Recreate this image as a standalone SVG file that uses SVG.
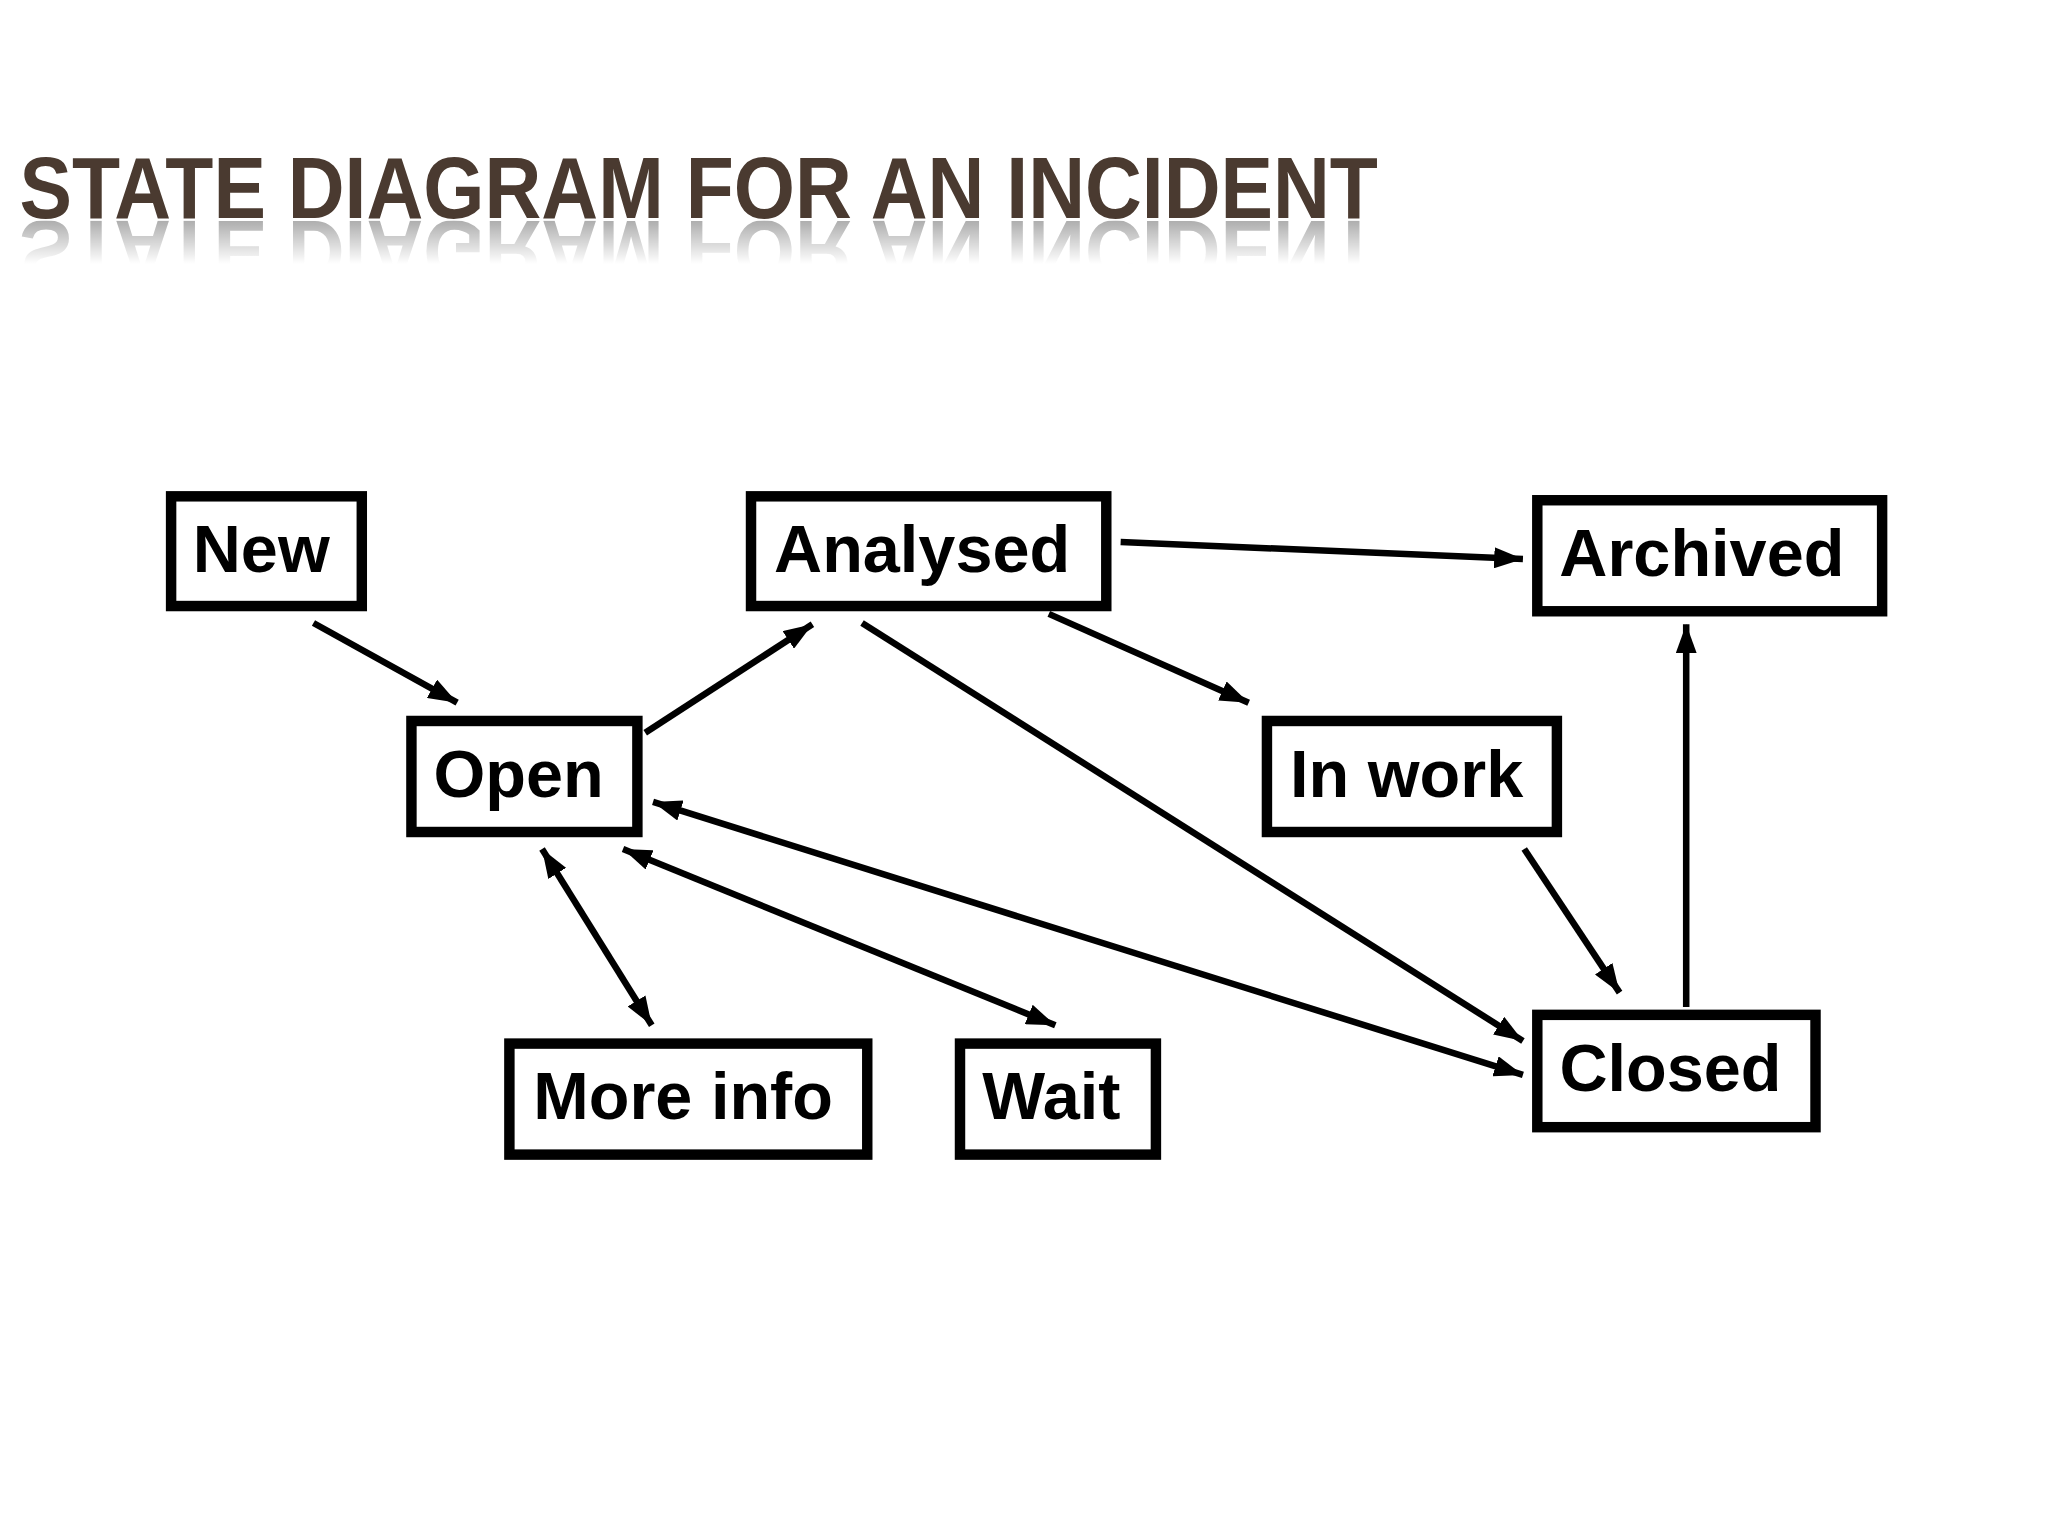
<svg xmlns="http://www.w3.org/2000/svg" width="2048" height="1536" viewBox="0 0 2048 1536">
<style>
.box{fill:#fff;stroke:#000;stroke-width:8}
.lbl{font-family:"Liberation Sans",Arial,sans-serif;font-weight:bold;font-size:51px;fill:#000}
.ln{stroke:#000;stroke-width:5;fill:none}
.title{font-family:"Liberation Sans",Arial,sans-serif;font-weight:bold;font-size:66px;fill:#4a3a30}
</style>
<defs>
<marker id="ah" viewBox="0 0 22 16" refX="22" refY="8" markerWidth="22" markerHeight="16" markerUnits="userSpaceOnUse" orient="auto-start-reverse"><path d="M0,0 L22,8 L0,16 Z" fill="#000"/></marker>
<linearGradient id="fade" x1="0" y1="0" x2="0" y2="1"><stop offset="0" stop-color="#fff" stop-opacity="0.6"/><stop offset="1" stop-color="#fff" stop-opacity="0"/></linearGradient>
<mask id="rm" maskUnits="userSpaceOnUse" x="0" y="160" width="1100" height="45"><rect x="0" y="169" width="1100" height="33" fill="url(#fade)"/></mask>
</defs>
<rect width="2048" height="1536" fill="#fff"/>
<g transform="scale(1.30612)">
<g id="title">
<text class="title" x="15" y="167" textLength="1040" lengthAdjust="spacingAndGlyphs">STATE DIAGRAM FOR AN INCIDENT</text>
<g mask="url(#rm)" aria-hidden="true"><text class="title" x="15" y="-169" transform="scale(1,-1)" textLength="1040" lengthAdjust="spacingAndGlyphs" style="fill:#777">STATE DIAGRAM FOR AN INCIDENT</text></g>
</g>
<g id="connectors">
<line class="ln" x1="240" y1="477" x2="350" y2="538" marker-end="url(#ah)"/>
<line class="ln" x1="494" y1="561" x2="622" y2="478" marker-end="url(#ah)"/>
<line class="ln" x1="858" y1="415" x2="1166" y2="428" marker-end="url(#ah)"/>
<line class="ln" x1="803" y1="470" x2="956" y2="538" marker-end="url(#ah)"/>
<line class="ln" x1="660" y1="477" x2="1166" y2="797" marker-end="url(#ah)"/>
<line class="ln" x1="1167" y1="650" x2="1240" y2="760" stroke-width="3.5" marker-end="url(#ah)"/>
<line class="ln" x1="1291" y1="771" x2="1291" y2="478" marker-end="url(#ah)"/>
<line class="ln" x1="500" y1="614" x2="1166" y2="823" marker-start="url(#ah)" marker-end="url(#ah)"/>
<line class="ln" x1="415" y1="650" x2="499" y2="785" marker-start="url(#ah)" marker-end="url(#ah)"/>
<line class="ln" x1="477" y1="650" x2="808" y2="785" marker-start="url(#ah)" marker-end="url(#ah)"/>
</g>
<g id="new"><rect class="box" x="131" y="380" width="146" height="84"/><text class="lbl" x="200" y="438" text-anchor="middle">New</text></g>
<g id="analysed"><rect class="box" x="575" y="380" width="272" height="84"/><text class="lbl" x="706" y="438" text-anchor="middle">Analysed</text></g>
<g id="archived"><rect class="box" x="1177" y="383" width="264" height="85"/><text class="lbl" x="1303" y="441" text-anchor="middle">Archived</text></g>
<g id="open"><rect class="box" x="315" y="552" width="173" height="85"/><text class="lbl" x="397" y="610" text-anchor="middle">Open</text></g>
<g id="inwork"><rect class="box" x="970" y="552" width="222" height="85"/><text class="lbl" x="1077" y="610" text-anchor="middle">In work</text></g>
<g id="moreinfo"><rect class="box" x="390" y="799" width="274" height="85"/><text class="lbl" x="523" y="857" text-anchor="middle">More info</text></g>
<g id="wait"><rect class="box" x="735" y="799" width="150" height="85"/><text class="lbl" x="805" y="857" text-anchor="middle">Wait</text></g>
<g id="closed"><rect class="box" x="1177" y="777" width="213" height="86"/><text class="lbl" x="1279" y="835" text-anchor="middle">Closed</text></g>
</g>
</svg>
